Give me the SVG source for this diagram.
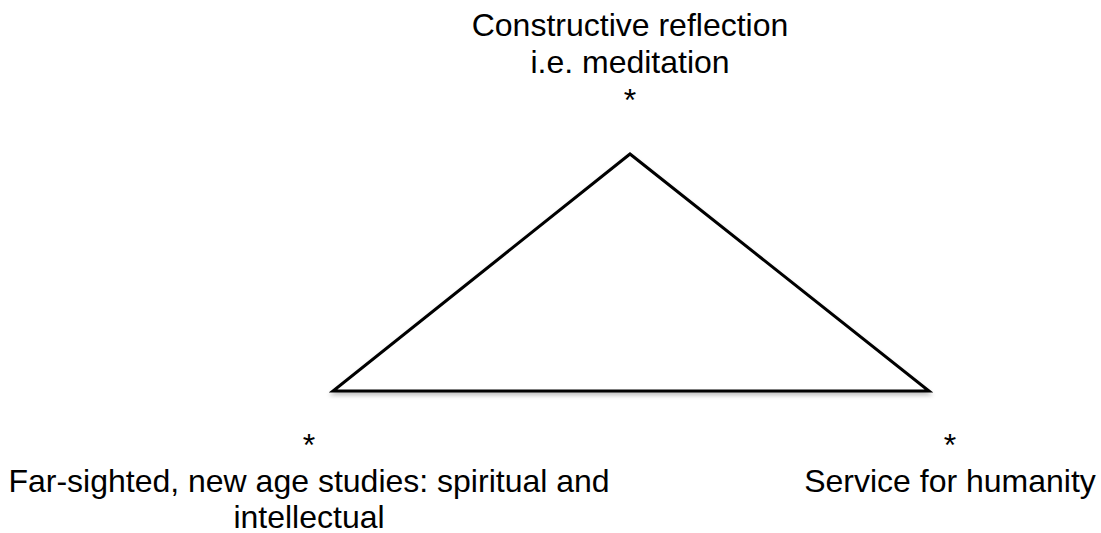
<svg xmlns="http://www.w3.org/2000/svg" width="1101" height="533" viewBox="0 0 1101 533">
<defs>
<style>
text{font-family:"Liberation Sans",Arial,sans-serif;font-size:32px;fill:#000;text-anchor:middle}
.tri{fill:#fff;stroke:#000;stroke-width:3;stroke-linejoin:miter}
</style>
<filter id="sh" x="-10%" y="-10%" width="120%" height="130%">
<feGaussianBlur in="SourceAlpha" stdDeviation="2"/>
<feOffset dx="0" dy="3"/>
<feComponentTransfer><feFuncA type="linear" slope="0.25"/></feComponentTransfer>
<feMerge><feMergeNode/><feMergeNode in="SourceGraphic"/></feMerge>
</filter>
</defs>
<rect width="1101" height="533" fill="#fff"/>
<g id="connectors">
<polygon class="tri" filter="url(#sh)" points="630,154 333,391 929,391"/>
</g>
<g id="node-top">
<text x="630" y="36">Constructive reflection</text>
<text x="630" y="73">i.e. meditation</text>
<text x="630" y="111">*</text>
</g>
<g id="node-left">
<text x="309" y="456">*</text>
<text x="309" y="492">Far-sighted, new age studies: spiritual and</text>
<text x="309" y="528">intellectual</text>
</g>
<g id="node-right">
<text x="950" y="456">*</text>
<text x="950" y="492">Service for humanity</text>
</g>
</svg>
